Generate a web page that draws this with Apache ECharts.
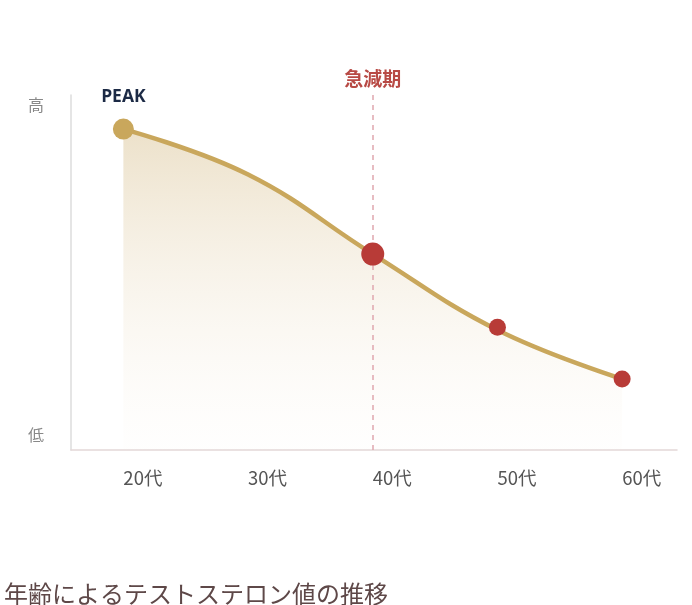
<!DOCTYPE html>
<html>
<head>
<meta charset="utf-8">
<script src="https://cdn.jsdelivr.net/npm/echarts@6/dist/echarts.min.js"></script>
<style>
  html, body { margin: 0; padding: 0; background: #fff; }
  #chart { width: 692px; height: 605px; }
</style>
</head>
<body>
<div id="chart"></div>
<script>
// 年代 (x) と相対レベル (0-100, 高=上)
const ages = [20, 30, 40, 50, 60];
const levels = [90.4, 77.6, 55.2, 33.8, 20.0];
const ageTicks = [20, 30, 40, 50, 60];
const levelTicks = [4.2, 97.2];
const levelNames = { 4.2: '低', 97.2: '高' };
const dropAge = 40;          // 急減期
// 強調する点 [年代, レベル]
const peakPoint = [[20, 90.4]];
const redPoints = [[40, 55.2], [50, 34.6], [60, 20.0]];

const GOLD = '#c9a75c';
const RED = '#b83b37';

const myChart = echarts.init(document.getElementById('chart'));

const option = {
    backgroundColor: '#ffffff',
    animation: false,
    title: {
        text: '年齢によるテストステロン値の推移',
        left: -1,
        top: 577,
        textStyle: {
            color: '#5e4848',
            fontSize: 24,
            fontWeight: 'normal',
            fontFamily: 'Noto Sans CJK JP'
        }
    },
    grid: { left: 71, right: 15, top: 95, bottom: 155 },
    xAxis: {
        type: 'value',
        min: 15.8,
        max: 64.4,
        splitLine: { show: false },
        axisLine: { show: true, lineStyle: { color: '#e3d8d8', width: 1.5 } },
        axisTick: { show: false },
        axisLabel: {
            customValues: ageTicks,
            formatter: function (v) { return v + '代'; },
            align: 'left',
            margin: 19,
            color: '#555',
            fontSize: 18.5,
            fontFamily: 'Noto Sans CJK JP'
        }
    },
    yAxis: {
        type: 'value',
        min: 0,
        max: 100,
        splitLine: { show: false },
        axisLine: { show: true, lineStyle: { color: '#dcdcdc', width: 1.5 } },
        axisTick: { show: false },
        axisLabel: {
            customValues: levelTicks,
            formatter: function (v) { return levelNames[v] || ''; },
            margin: 27,
            color: '#888',
            fontSize: 16,
            fontFamily: 'Noto Sans CJK JP'
        }
    },
    series: [{
        type: 'line',
        data: ages.map(function (a, i) { return [a, levels[i]]; }),
        smooth: 0.42,
        showSymbol: false,
        lineStyle: { color: GOLD, width: 4.5 },
        itemStyle: { color: GOLD },
        areaStyle: {
            color: new echarts.graphic.LinearGradient(0, 0, 0, 1, [
                { offset: 0, color: 'rgba(212,186,132,0.62)' },
                { offset: 1, color: 'rgba(245,235,220,0.05)' }
            ])
        },
        markLine: {
            silent: true,
            symbol: 'none',
            data: [{ xAxis: dropAge }],
            lineStyle: { color: '#e0a7ae', type: [5, 5], width: 1.5 },
            label: {
                show: true,
                position: 'end',
                formatter: '急減期',
                distance: 7,
                color: '#b84a45',
                fontSize: 19,
                fontWeight: 'bold',
                fontFamily: 'Noto Sans CJK JP'
            }
        },
        z: 2
    }, {
        type: 'scatter',
        data: peakPoint,
        symbolSize: 21,
        itemStyle: { color: GOLD, opacity: 1 },
        label: {
            show: true,
            position: 'top',
            distance: 13,
            formatter: 'PEAK',
            color: '#1c2a45',
            fontSize: 17.5,
            fontWeight: 'bold',
            fontFamily: 'Open Sans'
        },
        z: 5
    }, {
        type: 'scatter',
        data: redPoints,
        symbolSize: function (v) { return v[0] === dropAge ? 23 : 17; },
        itemStyle: { color: RED, opacity: 1 },
        z: 5
    }]
};

myChart.setOption(option);
</script>
</body>
</html>
